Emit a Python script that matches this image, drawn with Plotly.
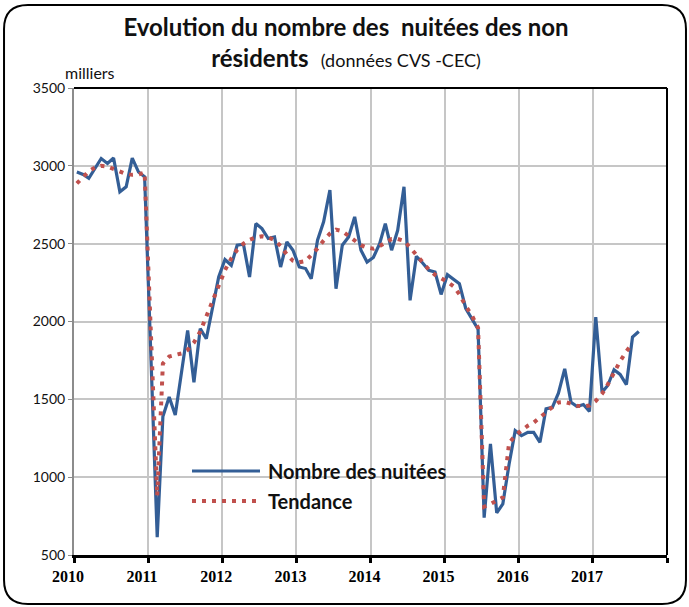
import pandas as pd
import plotly.graph_objects as go

# monthly values, thousands of nights (Jan 2010 onwards)
nuitees = [
    2960, 2945, 2920, 2985, 3047, 3015, 3050, 2833, 2865, 3050, 2960, 2930,
    1760, 615, 1390, 1515, 1400, 1675, 1943, 1610, 1954, 1889, 2090, 2286,
    2398, 2361, 2490, 2496, 2286, 2629, 2597, 2533, 2543, 2350, 2511, 2458,
    2350, 2340, 2275, 2522, 2640, 2844, 2211, 2490, 2543, 2672, 2458, 2382,
    2411, 2500, 2629, 2458, 2586, 2865, 2136, 2419, 2376, 2329, 2318, 2174,
    2301, 2273, 2243, 2085, 2020, 1950, 740, 1214, 770, 828, 1085, 1299,
    1267, 1288, 1288, 1224, 1439, 1449, 1540, 1696, 1481, 1454, 1467, 1423,
    2028, 1546, 1589, 1690, 1660, 1595, 1900, 1936,
]
tendance = [
    2887, 2925, 2965, 2990, 3000, 2995, 2978, 2962, 2948, 2942, 2945, 2957,
    1850, 880, 1730, 1775, 1785, 1795, 1818, 1865, 1935, 2035, 2130, 2240,
    2330, 2405, 2460, 2500, 2525, 2540, 2548, 2540, 2523, 2485, 2430, 2390,
    2380, 2388, 2425, 2470, 2520, 2565, 2590, 2580, 2550, 2517, 2490, 2475,
    2468, 2485, 2510, 2530, 2530, 2518, 2475, 2425, 2375, 2335, 2300, 2278,
    2255, 2225, 2175, 2100, 2040, 1960, 810, 828, 850, 870, 1220, 1267,
    1300, 1330, 1350, 1385, 1420, 1450, 1480, 1483, 1472, 1458, 1455, 1460,
    1490, 1535, 1595, 1672, 1745, 1808, 1860,
]
year_ticks = ['2010-01-01', '2011-01-01', '2012-01-01', '2013-01-01', '2014-01-01',
              '2015-01-01', '2016-01-01', '2017-01-01', '2018-01-01']
year_labels = ['2010', '2011', '2012', '2013', '2014', '2015', '2016', '2017', '']

months = pd.date_range('2010-01-01', periods=len(nuitees), freq='MS') + pd.Timedelta(days=14)

BLUE = '#335E96'
RED = '#C0504D'

# plot area in pixels
L, R, T, B = 74, 667, 88, 555
W, H = 689, 607


def px(x):
    return (x - L) / (R - L)


def py(y):
    return (B - y) / (B - T)


def rounded_box(x0, y0, x1, y1, r):
    pts = [
        ('M', [(x0 + r, y0)]), ('L', [(x1 - r, y0)]), ('Q', [(x1, y0), (x1, y0 + r)]),
        ('L', [(x1, y1 - r)]), ('Q', [(x1, y1), (x1 - r, y1)]),
        ('L', [(x0 + r, y1)]), ('Q', [(x0, y1), (x0, y1 - r)]),
        ('L', [(x0, y0 + r)]), ('Q', [(x0, y0), (x0 + r, y0)]),
    ]
    out = ''
    for cmd, coords in pts:
        out += cmd + ' '.join(f'{px(a):.4f},{py(b):.4f}' for a, b in coords) + ' '
    return out + 'Z'


fig = go.Figure()
fig.add_trace(go.Scatter(
    x=months, y=nuitees, mode='lines', name='Nombre des nuitées',
    line=dict(color=BLUE, width=3.2), showlegend=False,
))
fig.add_trace(go.Scatter(
    x=months[:len(tendance)], y=tendance, mode='lines', name='Tendance',
    line=dict(color=RED, width=4, dash='4px,6px'), showlegend=False,
))

shapes = [
    dict(type='path', xref='paper', yref='paper', path=rounded_box(4, 5, 686, 604, 24),
         line=dict(color='black', width=2)),
    dict(type='line', xref='paper', yref='paper', x0=0, x1=1, y0=1, y1=1,
         line=dict(color='black', width=2)),
    dict(type='line', xref='paper', yref='paper', x0=1, x1=1, y0=0, y1=1,
         line=dict(color='black', width=2)),
    # legend samples
    dict(type='line', xref='paper', yref='paper', x0=px(192), x1=px(260), y0=py(471), y1=py(471),
         line=dict(color=BLUE, width=3.2)),
    dict(type='line', xref='paper', yref='paper', x0=px(192), x1=px(262), y0=py(501), y1=py(501),
         line=dict(color=RED, width=4, dash='4px,6px')),
]

annotations = [
    dict(text='milliers', xref='paper', yref='paper', x=px(63), y=py(73),
         xanchor='left', yanchor='middle', showarrow=False,
         font=dict(family='Lato', size=16, color='#111')),
    dict(text='<b>Nombre des nuitées</b>', xref='paper', yref='paper', x=px(266), y=py(471),
         xanchor='left', yanchor='middle', showarrow=False,
         font=dict(family='Lato', size=20, color='#111')),
    dict(text='<b>Tendance</b>', xref='paper', yref='paper', x=px(266), y=py(501),
         xanchor='left', yanchor='middle', showarrow=False,
         font=dict(family='Lato', size=20, color='#111')),
]

fig.update_layout(
    width=W, height=H,
    margin=dict(l=L, r=W - R, t=T, b=H - B),
    paper_bgcolor='white', plot_bgcolor='white',
    title=dict(
        text='<b>Evolution du nombre des&nbsp; nuitées des non</b><br>'
             '<b>résidents</b>&nbsp; <span style="font-size:18px">(données CVS -CEC)</span>',
        x=346 / W, xanchor='center', xref='container',
        y=1 - 36 / H, yanchor='top', yref='container',
        font=dict(family='Lato', size=24, color='#111'),
    ),
    xaxis=dict(
        type='date', range=['2010-01-01', '2018-01-01'],
        tickvals=year_ticks, ticktext=year_labels,
        showgrid=True, gridcolor='#c6c6c6', gridwidth=2,
        showline=True, linecolor='black', linewidth=3,
        ticks='outside', ticklen=5, tickwidth=3, tickcolor='black',
        ticklabelshift=-6,
        tickfont=dict(family='Liberation Serif', size=16, color='black', weight='bold'),
        zeroline=False,
    ),
    yaxis=dict(
        range=[500, 3500], dtick=500, tick0=500,
        showgrid=True, gridcolor='#c6c6c6', gridwidth=2,
        showline=True, linecolor='#8c8c8c', linewidth=2,
        ticks='outside', ticklen=4, tickcolor='#8c8c8c', tickwidth=1,
        tickfont=dict(family='Lato', size=14, color='#111'),
        zeroline=False,
    ),
    shapes=shapes,
    annotations=annotations,
)

fig.write_html('out.html', config={'displayModeBar': False},
               post_script="document.body.style.margin='0';")
